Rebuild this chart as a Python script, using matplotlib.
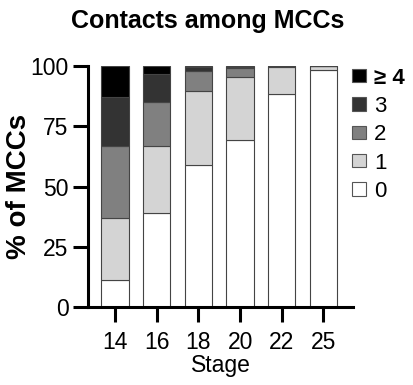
import matplotlib
matplotlib.use('Agg')
import matplotlib.pyplot as plt
from matplotlib.patches import Patch
import numpy as np

plt.rcParams['font.family'] = ['Liberation Sans', 'DejaVu Sans']

stages = ['14', '16', '18', '20', '22', '25']
# percentages of MCCs by number of contacts
c0 = [11, 39, 59, 69.5, 88.5, 98.3]
c1 = [26, 28, 30.5, 25.8, 11, 1.7]
c2 = [30, 18, 8.5, 3.7, 0.3, 0]
c3 = [20, 11.5, 1.5, 0.7, 0.2, 0]
c4 = [13, 3.5, 0.5, 0.3, 0, 0]
series = [c0, c1, c2, c3, c4]
labels = ['0', '1', '2', '3', '\u2265 4']
colors = ['#ffffff', '#d4d4d4', '#808080', '#333333', '#000000']

fig = plt.figure(figsize=(4.14, 3.85), dpi=100)
ax = fig.add_axes([88/414, 1 - 307/385, 265/414, 241/385])

x = np.arange(len(stages))
bottom = np.zeros(len(stages))
for vals, col in zip(series, colors):
  ax.bar(x, vals, 0.655, bottom=bottom, color=col, edgecolor='#444444', linewidth=0.8)
  bottom += np.array(vals)

ax.set_xlim(-0.65, 5.71)
ax.set_ylim(0, 100)
ax.set_yticks([0, 25, 50, 75, 100])
ax.set_xticks(x)
ax.set_xticklabels(stages)
for s in ['top', 'right']:
  ax.spines[s].set_visible(False)
for s in ['left', 'bottom']:
  ax.spines[s].set_linewidth(2.2)
ax.tick_params(axis='both', width=2.2, length=11, labelsize=16.5)
ax.tick_params(axis='y', pad=3)
ax.tick_params(axis='x', pad=6)
ax.set_xlabel('Stage', fontsize=16.5, labelpad=0)
ax.set_ylabel('% of MCCs', fontsize=20, fontweight='bold', labelpad=-1)

fig.text(208/414, 1 - 21/385, 'Contacts among MCCs', fontsize=18, fontweight='bold',
         ha='center', va='center')

handles = [Patch(facecolor=c, edgecolor='#555555', linewidth=0.8) for c in colors][::-1]
leg = ax.legend(handles, labels[::-1], loc='upper left', bbox_to_anchor=(0.962, 1.03),
                frameon=False, fontsize=16, handlelength=0.65, handleheight=0.55,
                handletextpad=0.35, labelspacing=0.33, borderaxespad=0)
leg.get_texts()[0].set_fontweight('bold')

fig.savefig('out.png', dpi=100)
